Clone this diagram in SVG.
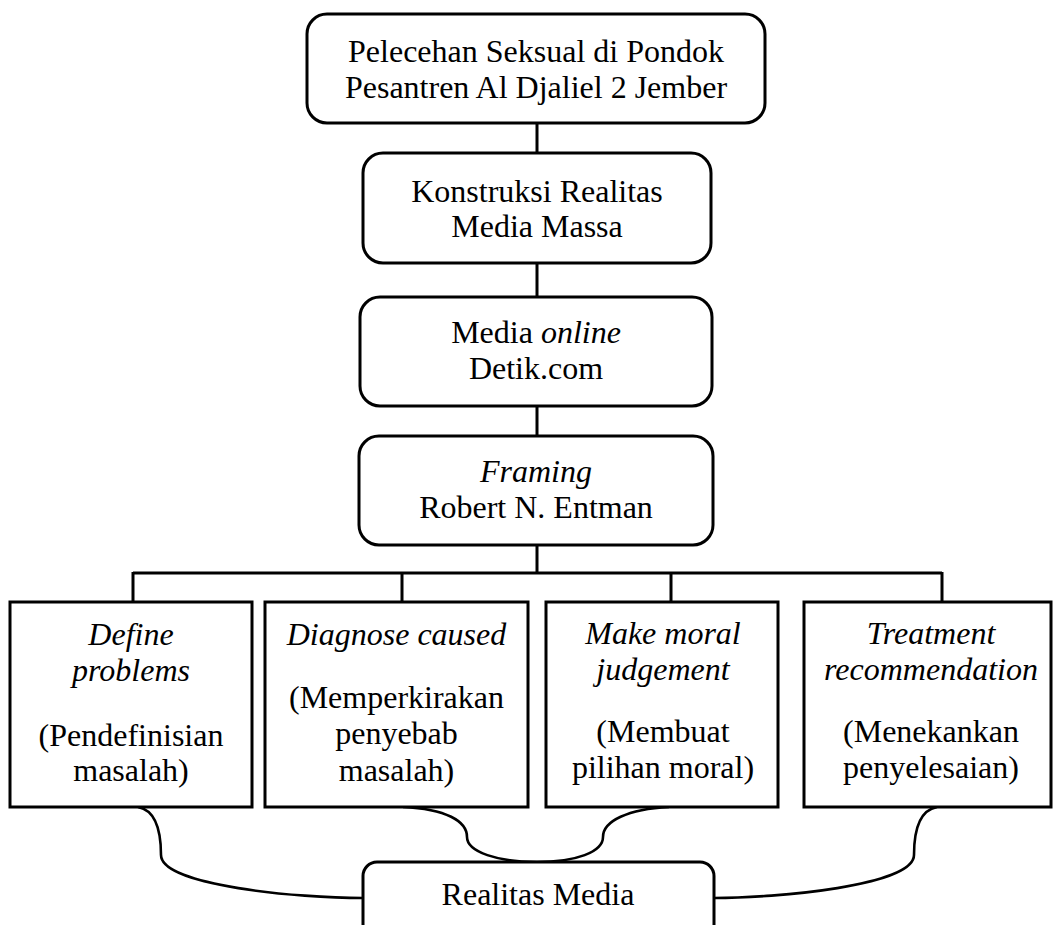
<svg xmlns="http://www.w3.org/2000/svg" width="1054" height="925" viewBox="0 0 1054 925">
<style>
.box{fill:#fff;stroke:#000;stroke-width:3}
.ln{fill:none;stroke:#000;stroke-width:3}
.cv{fill:none;stroke:#000;stroke-width:2.6}
text{font-family:"Liberation Serif","Times New Roman",serif;font-size:32px;fill:#000;text-anchor:middle}
.i{font-style:italic}
</style>
<rect width="1054" height="925" fill="#fff"/>
<g id="connectors">
<path class="ln" d="M537 123V153M537 263V297M537 406V436M537 545V573M133 573H942M133 572V602M402 572V602M671 572V602M942 572V602"/>
<path class="cv" d="M138 807C154 810 161 828 161 855C161 886 300 898 363 898"/>
<path class="cv" d="M937 807C921 810 914 828 914 855C914 886 776 898 714 898"/>
<path class="cv" d="M403 807C446 809 467 821 467 837C467 852 498 862 537 862C576 862 603 852 603 837C603 821 628 809 669 807"/>
</g>
<g id="n1">
<rect class="box" x="307" y="14" width="458" height="109" rx="20"/>
<text x="536" y="62">Pelecehan Seksual di Pondok</text>
<text x="536" y="98">Pesantren Al Djaliel 2 Jember</text>
</g>
<g id="n2">
<rect class="box" x="363" y="153" width="348" height="110" rx="20"/>
<text x="537" y="202">Konstruksi Realitas</text>
<text x="537" y="237">Media Massa</text>
</g>
<g id="n3">
<rect class="box" x="360" y="297" width="352" height="109" rx="20"/>
<text x="536" y="343">Media <tspan class="i">online</tspan></text>
<text x="536" y="379">Detik.com</text>
</g>
<g id="n4">
<rect class="box" x="359" y="436" width="354" height="109" rx="20"/>
<text x="536" y="482" class="i">Framing</text>
<text x="536" y="518">Robert N. Entman</text>
</g>
<g id="b1">
<rect class="box" x="10" y="602" width="242" height="205"/>
<text x="131" y="645" class="i">Define</text>
<text x="131" y="681" class="i">problems</text>
<text x="131" y="746">(Pendefinisian</text>
<text x="131" y="781">masalah)</text>
</g>
<g id="b2">
<rect class="box" x="265" y="602" width="263" height="205"/>
<text x="396.5" y="645" class="i">Diagnose caused</text>
<text x="396.5" y="708">(Memperkirakan</text>
<text x="396.5" y="744">penyebab</text>
<text x="396.5" y="781">masalah)</text>
</g>
<g id="b3">
<rect class="box" x="546" y="602" width="232" height="205"/>
<text x="663" y="644" class="i">Make moral</text>
<text x="663" y="680" class="i">judgement</text>
<text x="663" y="742">(Membuat</text>
<text x="663" y="778">pilihan moral)</text>
</g>
<g id="b4">
<rect class="box" x="804" y="602" width="247" height="205"/>
<text x="931" y="644" class="i">Treatment</text>
<text x="931" y="680" class="i">recommendation</text>
<text x="931" y="742">(Menekankan</text>
<text x="931" y="778">penyelesaian)</text>
</g>
<g id="realitas">
<rect class="box" x="363" y="862" width="351" height="90" rx="14"/>
<text x="538" y="905">Realitas Media</text>
</g>
</svg>
